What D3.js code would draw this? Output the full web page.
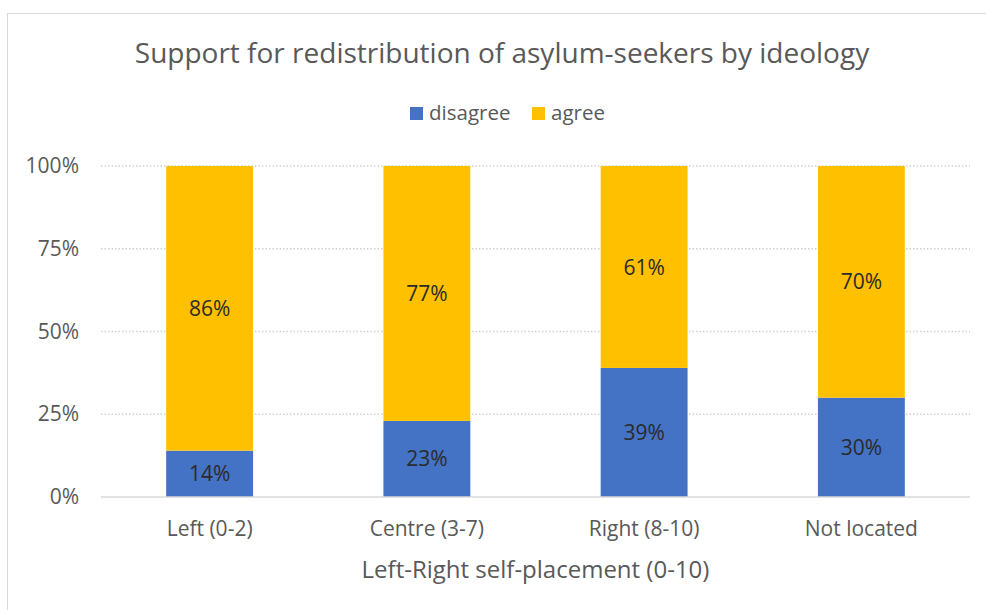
<!DOCTYPE html>
<html>
<head>
<meta charset="utf-8">
<script src="https://cdn.jsdelivr.net/npm/d3@7/dist/d3.min.js"></script>
<style>
  html, body { margin: 0; padding: 0; background: #fff; }
  svg { display: block; font-family: "Open Sans", "Noto Sans", sans-serif; }
</style>
</head>
<body>
<svg id="chart" width="986" height="610"></svg>
<script>
// Survey shares by left-right self-placement
const categories = ["Left (0-2)", "Centre (3-7)", "Right (8-10)", "Not located"];
const disagree = [14, 23, 39, 30];
const agree = [86, 77, 61, 70];
const seriesNames = ["disagree", "agree"];
const seriesColors = ["#4472C4", "#FFC000"];
const yTicks = [0, 25, 50, 75, 100];

const svg = d3.select("#chart");
const W = 986, H = 610;
const margin = { left: 101, right: 16, top: 166, bottom: 113 };

// chart frame
svg.append("rect")
  .attr("x", 7.5).attr("y", 13.5)
  .attr("width", W + 10).attr("height", H + 10)
  .attr("fill", "#fff").attr("stroke", "#d9d9d9").attr("stroke-width", 1);

const x = d3.scaleBand()
  .domain(categories)
  .range([margin.left, W - margin.right])
  .paddingInner(0.6).paddingOuter(0.3);

const y = d3.scaleLinear().domain([0, 100]).range([H - margin.bottom, margin.top]);

// gridlines
svg.append("g")
  .selectAll("line")
  .data(yTicks.filter(t => t > 0))
  .join("line")
  .attr("x1", margin.left).attr("x2", W - margin.right)
  .attr("y1", d => y(d)).attr("y2", d => y(d))
  .attr("stroke", "#d0d0d0").attr("stroke-width", 1.3)
  .attr("stroke-dasharray", "1.5,2");

// y axis labels
const yAxis = d3.axisLeft(y).tickValues(yTicks).tickFormat(d => d + "%").tickSize(0).tickPadding(22);
const yg = svg.append("g").attr("transform", `translate(${margin.left},0)`).call(yAxis);
yg.select(".domain").remove();
yg.selectAll("text").attr("fill", "#595959").attr("font-size", 21).attr("font-family", "Open Sans");

// stacked bars
const rows = categories.map((c, i) => ({ cat: c, disagree: disagree[i], agree: agree[i] }));
const stack = d3.stack().keys(seriesNames)(rows);

const layers = svg.append("g").selectAll("g")
  .data(stack)
  .join("g")
  .attr("fill", (d, i) => seriesColors[i]);

layers.selectAll("rect")
  .data(d => d)
  .join("rect")
  .attr("x", d => x(d.data.cat))
  .attr("width", x.bandwidth())
  .attr("y", d => y(d[1]))
  .attr("height", d => y(d[0]) - y(d[1]));

// value labels
layers.selectAll("text")
  .data(d => d.map(v => ({ v, key: d.key })))
  .join("text")
  .attr("x", d => x(d.v.data.cat) + x.bandwidth() / 2)
  .attr("y", d => (y(d.v[0]) + y(d.v[1])) / 2)
  .attr("dy", "0.36em")
  .attr("text-anchor", "middle")
  .attr("fill", "#2b2b2b")
  .attr("font-size", 21)
  .text(d => d.v.data[d.key] + "%");

// baseline
svg.append("line")
  .attr("x1", margin.left).attr("x2", W - margin.right)
  .attr("y1", y(0)).attr("y2", y(0))
  .attr("stroke", "#d9d9d9").attr("stroke-width", 1.5);

// category axis
const xAxis = d3.axisBottom(x).tickSize(0).tickPadding(24);
const xg = svg.append("g").attr("transform", `translate(0,${y(0)})`).call(xAxis);
xg.select(".domain").remove();
xg.selectAll("text").attr("fill", "#595959").attr("font-size", 21).attr("font-family", "Open Sans");

// axis title
svg.append("text")
  .attr("x", (margin.left + W - margin.right) / 2)
  .attr("y", 578)
  .attr("text-anchor", "middle")
  .attr("fill", "#595959")
  .attr("font-size", 24)
  .text("Left-Right self-placement (0-10)");

// title
svg.append("text")
  .attr("x", 502)
  .attr("y", 63)
  .attr("text-anchor", "middle")
  .attr("fill", "#595959")
  .attr("font-size", 28)
  .text("Support for redistribution of asylum-seekers by ideology");

// legend
const legend = svg.append("g");
const legendItems = [{ name: seriesNames[0], color: seriesColors[0], x: 410 }, { name: seriesNames[1], color: seriesColors[1], x: 532 }];
legend.selectAll("rect")
  .data(legendItems)
  .join("rect")
  .attr("x", d => d.x).attr("y", 107)
  .attr("width", 13).attr("height", 13)
  .attr("fill", d => d.color);
legend.selectAll("text")
  .data(legendItems)
  .join("text")
  .attr("x", d => d.x + 19).attr("y", 113)
  .attr("dy", "0.36em")
  .attr("fill", "#595959")
  .attr("font-size", 20.5)
  .text(d => d.name);
</script>
</body>
</html>
